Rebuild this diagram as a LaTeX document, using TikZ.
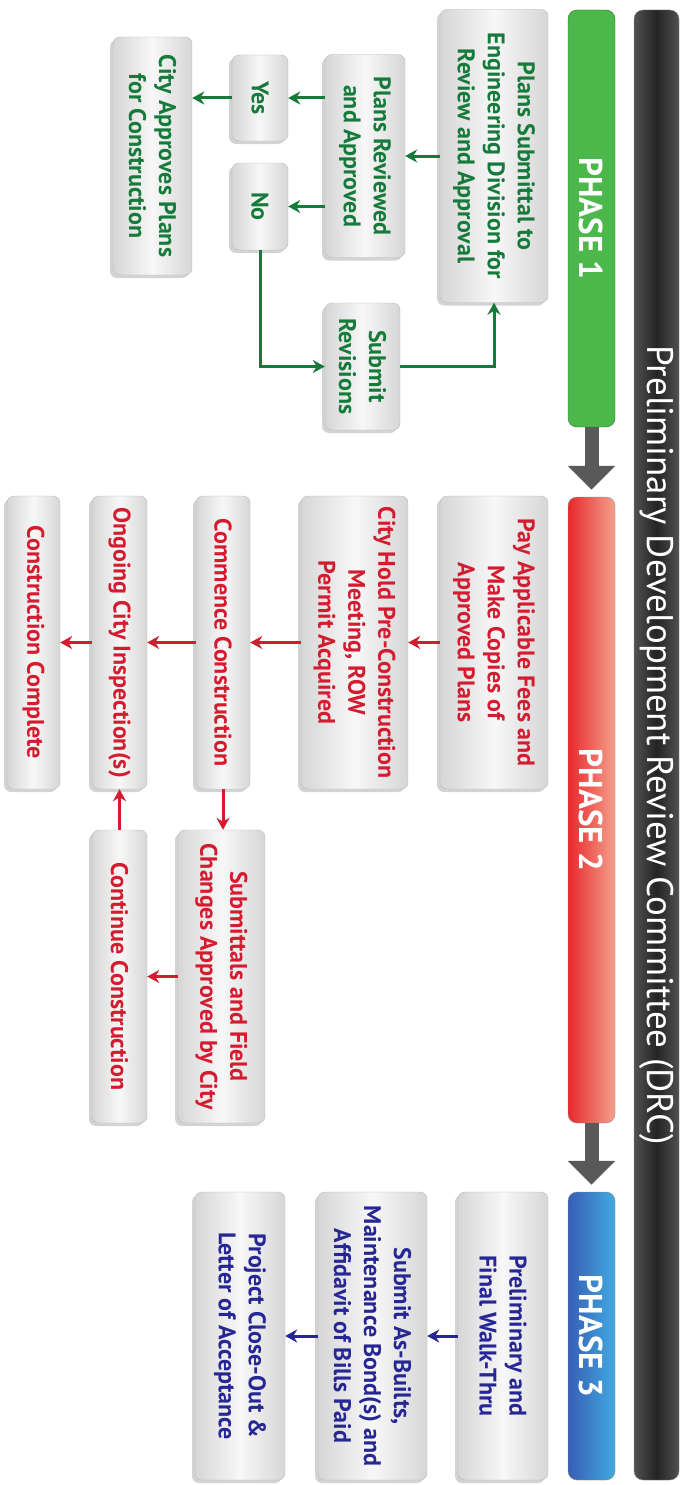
\documentclass[tikz,border=0pt]{standalone}
\usepackage{fontspec}
\setmainfont{PT Sans}
\usetikzlibrary{arrows.meta,positioning,shadows}
\definecolor{txtgreen}{RGB}{22,122,58}
\definecolor{txtred}{RGB}{212,28,48}
\definecolor{txtblue}{RGB}{38,38,148}
\definecolor{bargreen}{RGB}{76,184,76}
\definecolor{barred}{RGB}{232,40,44}
\definecolor{barsalmon}{RGB}{244,160,140}
\definecolor{barblue}{RGB}{56,94,180}
\definecolor{barcyan}{RGB}{64,170,225}
\tikzset{
    >={Stealth[length=12pt,width=13pt]},
    font=\bfseries\fontsize{24}{30}\selectfont,
    stepbox/.style={rotate=-90,draw=gray!55,thin,rounded corners=7pt,
        left color=gray!32,right color=gray!32,middle color=gray!6,
        align=center,inner sep=0pt,
        drop shadow={shadow xshift=-3pt,shadow yshift=-3pt,opacity=.35}},
    phasebar/.style={rotate=-90,draw=black!45,rounded corners=9pt,text=white,
        minimum height=47pt,font=\bfseries\fontsize{33}{34}\selectfont},
    flow/.style={->,line width=3pt},
    bigarrow/.style={line width=14pt,draw=black!65,
        -{Triangle[width=46pt,length=24pt]},shorten >=7pt}
}

\begin{document}
\begin{tikzpicture}[x=1pt,y=-1pt]
    \useasboundingbox (0,0) rectangle (686,1485);
    % committee bar and phase bars
    \node[phasebar,left color=black!68,right color=black!68,middle color=black!86,
        minimum height=45pt,minimum width=1470pt,
        font=\fontsize{37}{38}\selectfont] (drc) at (656.5,745) {Preliminary Development Review Committee (DRC)};
    \node[phasebar,fill=bargreen,draw=bargreen!60!black,minimum width=417pt] (ph1) at (591.5,218.5) {PHASE 1};
    \node[phasebar,left color=barred,right color=barsalmon,minimum width=626pt] (ph2) at (591.5,810) {PHASE 2};
    \node[phasebar,left color=barblue,right color=barcyan,minimum width=288pt] (ph3) at (591.5,1336) {PHASE 3};
    \draw[bigarrow] (ph1.east) -- (ph2.west);
    \draw[bigarrow] (ph2.east) -- (ph3.west);

    % phase 1
    \begin{scope}[text=txtgreen]
    \node[stepbox,minimum width=293pt,minimum height=108pt] (submit) at (494,156) {Plans Submittal to\\Engineering Division for\\Review and Approval};
    \node[stepbox,minimum width=203pt,minimum height=80pt] (reviewed) at (365,156) {Plans Reviewed\\and Approved};
    \node[stepbox,minimum width=86pt,minimum height=56pt] (yes) at (260,98) {Yes};
    \node[stepbox,minimum width=87pt,minimum height=56pt] (no) at (260,206.5) {No};
    \node[stepbox,minimum width=238pt,minimum height=79pt] (cityok) at (152.5,156) {City Approves Plans\\for Construction};
    \node[stepbox,minimum width=127pt,minimum height=75pt] (revise) at (362.5,366.5) {Submit\\Revisions};
    \end{scope}
    \begin{scope}[draw=txtgreen]
    \draw[flow] (submit.south) -- (submit.south -| reviewed.north);
    \draw[flow] (reviewed.south |- yes.north) -- (yes.north);
    \draw[flow] (reviewed.south |- no.north) -- (no.north);
    \draw[flow] (yes.south) -- (yes.south -| cityok.north);
    \draw[flow] (no.east) |- (revise.south);
    \draw[flow] (revise.north) -| (submit.east);
    \end{scope}

    % phase 2
    \begin{scope}[text=txtred]
    \node[stepbox,minimum width=293pt,minimum height=108pt] (fees) at (494,642.5) {Pay Applicable Fees and\\Make Copies of\\Approved Plans};
    \node[stepbox,minimum width=293pt,minimum height=107pt] (precon) at (354.5,642.5) {City Hold Pre-Construction\\Meeting, ROW\\Permit Acquired};
    \node[stepbox,minimum width=293pt,minimum height=54pt] (commence) at (223,642.5) {Commence Construction};
    \node[stepbox,minimum width=293pt,minimum height=55pt] (inspect) at (119.5,642.5) {Ongoing City Inspection(s)};
    \node[stepbox,minimum width=293pt,minimum height=53pt] (complete) at (33.5,642.5) {Construction Complete};
    \node[stepbox,minimum width=293pt,minimum height=87pt] (fieldchg) at (221.5,976.5) {Submittals and Field\\Changes Approved by City};
    \node[stepbox,minimum width=293pt,minimum height=55pt] (continue) at (119.5,976.5) {Continue Construction};
    \end{scope}
    \begin{scope}[draw=txtred]
    \draw[flow] (fees.south) -- (precon.north);
    \draw[flow] (precon.south) -- (commence.north);
    \draw[flow] (commence.south) -- (inspect.north);
    \draw[flow] (inspect.south) -- (complete.north);
    \draw[flow] (commence.east) -- (commence.east |- fieldchg.west);
    \draw[flow] (fieldchg.south) -- (fieldchg.south -| continue.north);
    \draw[flow] (continue.west) -- (inspect.east);
    \end{scope}

    % phase 3
    \begin{scope}[text=txtblue]
    \node[stepbox,minimum width=288pt,minimum height=90pt] (walk) at (503,1336) {Preliminary and\\Final Walk-Thru};
    \node[stepbox,minimum width=288pt,minimum height=109pt] (asbuilt) at (372.5,1336) {Submit As-Builts,\\Maintenance Bond(s) and\\Affidavit of Bills Paid};
    \node[stepbox,minimum width=288pt,minimum height=90pt] (closeout) at (240,1336) {Project Close-Out \&\\Letter of Acceptance};
    \end{scope}
    \begin{scope}[draw=txtblue]
    \draw[flow] (walk.south) -- (asbuilt.north);
    \draw[flow] (asbuilt.south) -- (closeout.north);
    \end{scope}
\end{tikzpicture}
\end{document}
